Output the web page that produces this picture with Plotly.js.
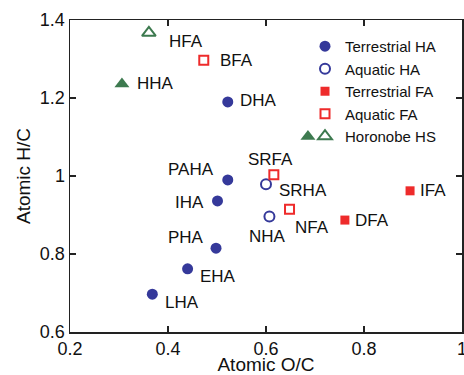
<!DOCTYPE html>
<html><head><meta charset="utf-8">
<script src="https://cdn.plot.ly/plotly-3.0.1.min.js"></script>
<style>html,body{margin:0;padding:0;background:#fff}#chart{width:464px;height:375px}</style>
</head><body><div id="chart"></div>
<script>
// ---- data ----
const terrHA_names = ['DHA','PAHA','IHA','PHA','EHA','LHA'];
const terrHA_oc = [0.522,0.522,0.501,0.498,0.440,0.368];
const terrHA_hc = [1.190,0.990,0.936,0.815,0.762,0.697];

const aqHA_names = ['SRHA','NHA'];
const aqHA_oc = [0.600,0.607];
const aqHA_hc = [0.979,0.896];

const terrFA_names = ['DFA','IFA'];
const terrFA_oc = [0.761,0.894];
const terrFA_hc = [0.887,0.962];

const aqFA_names = ['BFA','SRFA','NFA'];
const aqFA_oc = [0.473,0.616,0.648];
const aqFA_hc = [1.297,1.003,0.915];

const horHA_names = ['HHA'];
const horHA_oc = [0.306];
const horHA_hc = [1.236];

const horFA_names = ['HFA'];
const horFA_oc = [0.361];
const horFA_hc = [1.367];

const xTickVals = [0.2,0.4,0.6,0.8,1.0];
const xTickText = ['0.2','0.4','0.6','0.8','1'];
const yTickVals = [0.6,0.8,1.0,1.2,1.4];
const yTickText = ['0.6','0.8','1','1.2','1.4'];

// ---- label placement (style only): [xanchor, xshift, yshift] ----
const labelPos = {
  HFA:['left',18,-9], BFA:['left',14,0], HHA:['left',13,0], DHA:['left',10,1],
  PAHA:['right',-12,10], SRFA:['center',-3,15], SRHA:['left',11,-6], IHA:['right',-11,-2],
  NHA:['center',-2,-20], NFA:['left',3,-18], DFA:['left',8,0], IFA:['left',8,0],
  PHA:['right',-10,11], EHA:['left',10,-8], LHA:['left',11,-8]
};

const FONT = 'Liberation Sans, Arial, Helvetica, sans-serif';
const BLUE = '#35399a', RED = '#ee2b2b', GREEN = '#3d7a4f';

const series = [
  {name:'Terrestrial HA', n:terrHA_names, x:terrHA_oc, y:terrHA_hc, marker:{symbol:'circle', size:11, color:BLUE, line:{width:0}}},
  {name:'Aquatic HA', n:aqHA_names, x:aqHA_oc, y:aqHA_hc, marker:{symbol:'circle-open', size:10, color:BLUE, line:{width:2, color:BLUE}}},
  {name:'Terrestrial FA', n:terrFA_names, x:terrFA_oc, y:terrFA_hc, marker:{symbol:'square', size:9, color:RED, line:{width:0}}},
  {name:'Aquatic FA', n:aqFA_names, x:aqFA_oc, y:aqFA_hc, marker:{symbol:'square-open', size:9, color:RED, line:{width:2, color:RED}}},
  {name:'Horonobe HS', n:horFA_names, x:horFA_oc, y:horFA_hc, marker:{symbol:'triangle-up-open', size:12, color:GREEN, line:{width:2, color:GREEN}}},
  {name:'', n:horHA_names, x:horHA_oc, y:horHA_hc, marker:{symbol:'triangle-up', size:13, color:GREEN, line:{width:0}}, legend:'legend2'}
];

const traces = series.map(s => {
  const t = {type:'scatter', mode:'markers', name:s.name, x:s.x, y:s.y, marker:s.marker, hoverinfo:'skip'};
  if (s.legend) t.legend = s.legend;
  return t;
});

const annotations = [];
series.forEach(s => {
  s.n.forEach((nm, i) => {
    const p = labelPos[nm];
    annotations.push({x:s.x[i], y:s.y[i], xref:'x', yref:'y', text:nm, showarrow:false,
      xanchor:p[0], yanchor:'middle', xshift:p[1], yshift:p[2],
      font:{family:FONT, size:17, color:'#111'}});
  });
});

const axisCommon = {
  showgrid:false, zeroline:false, showline:true, linewidth:1.5, linecolor:'#222',
  mirror:'ticks', ticks:'inside', ticklen:6, tickwidth:1.5, tickcolor:'#222',
  tickfont:{family:FONT, size:18, color:'#111'}, ticklabeloverflow:'allow'
};

const layout = {
  width:464, height:375,
  margin:{l:70, r:2, t:20, b:43, pad:0},
  paper_bgcolor:'#fff', plot_bgcolor:'#fff',
  font:{family:FONT, color:'#111'},
  showlegend:true,
  xaxis:Object.assign({}, axisCommon, {range:[0.2,1.0], tickvals:xTickVals, ticktext:xTickText,
    automargin:'left',
    title:{text:'Atomic O/C', font:{family:FONT, size:19, color:'#111'}, standoff:5}}),
  yaxis:Object.assign({}, axisCommon, {range:[0.6,1.4], tickvals:yTickVals, ticktext:yTickText,
    automargin:'top',
    title:{text:'Atomic H/C', font:{family:FONT, size:19, color:'#111'}, standoff:4}}),
  legend:{x:0.5995, y:0.968, xanchor:'left', yanchor:'top', bgcolor:'rgba(0,0,0,0)',
    font:{family:FONT, size:15, color:'#111'}, borderwidth:0, tracegroupgap:0},
  legend2:{x:0.556, y:0.679, xanchor:'left', yanchor:'top', bgcolor:'rgba(0,0,0,0)',
    font:{family:FONT, size:15, color:'#111'}, borderwidth:0},
  annotations:annotations
};

Plotly.newPlot('chart', traces, layout, {displayModeBar:false, staticPlot:true});
</script>
</body></html>
